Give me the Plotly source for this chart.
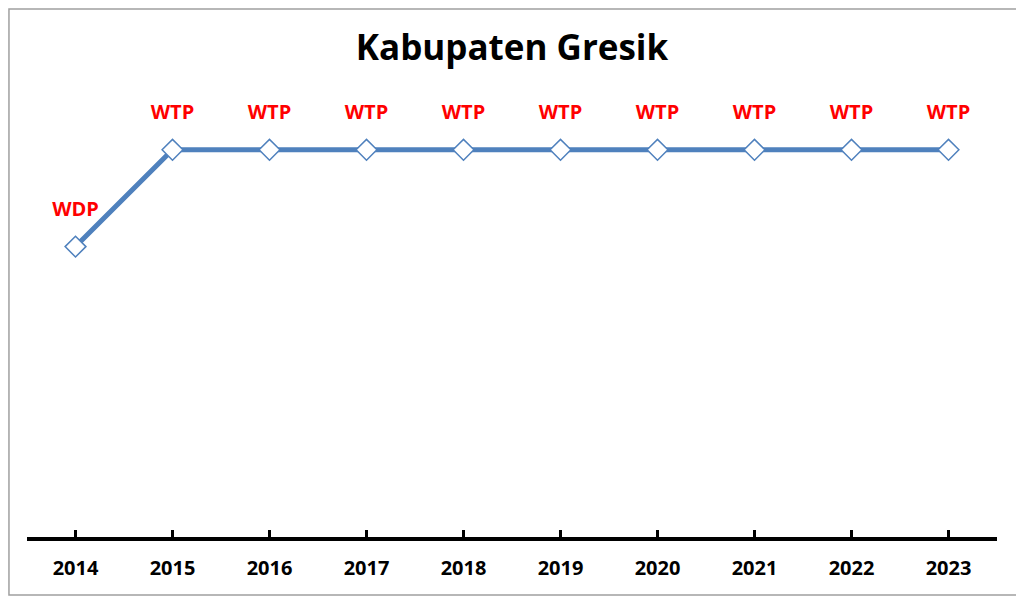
import plotly.graph_objects as go

years = ["2014", "2015", "2016", "2017", "2018", "2019", "2020", "2021", "2022", "2023"]
opini = ["WDP", "WTP", "WTP", "WTP", "WTP", "WTP", "WTP", "WTP", "WTP", "WTP"]
# WDP sits one step below WTP on the chart
skor = [3, 4, 4, 4, 4, 4, 4, 4, 4, 4]
label_gap = 0.37  # labels float a bit above the points

fig = go.Figure()
fig.add_trace(go.Scatter(
    x=years, y=skor, mode="lines+markers",
    line=dict(color="#4F81BD", width=5),
    marker=dict(symbol="diamond", size=16, color="white",
                line=dict(color="#4F81BD", width=1.5)),
    hoverinfo="skip",
))
fig.add_trace(go.Scatter(
    x=years, y=[v + label_gap for v in skor], mode="text", text=opini,
    textposition="middle center",
    textfont=dict(family="Open Sans", size=20, color="#FF0000", weight="bold"),
    hoverinfo="skip", cliponaxis=False,
))

# outer grey frame like the excel chart area
fig.add_shape(type="rect", xref="paper", yref="paper",
              x0=-0.0186, x1=1.0237, y0=-0.1198, y1=1.0909,
              line=dict(color="#A0A0A0", width=1.5))

# page body adds 8px, so the figure is a bit smaller than the window
fig.update_layout(
    width=1016, height=591,
    margin=dict(l=19, r=27, t=45, b=62),
    paper_bgcolor="white", plot_bgcolor="white",
    showlegend=False,
    title=dict(text="<b>Kabupaten Gresik</b>", xref="container", x=504 / 1016,
               xanchor="center", y=1 - 40 / 591, yanchor="middle",
               font=dict(family="Open Sans", size=35, color="black")),
    xaxis=dict(type="category", range=[-0.5, 9.5], showline=True, linecolor="black",
               linewidth=4, ticks="inside", ticklen=7, tickwidth=3, tickcolor="black",
               showgrid=False, zeroline=False, ticklabelstandoff=10,
               tickfont=dict(family="Open Sans", size=20, color="black", weight="bold")),
    yaxis=dict(range=[0, 5], visible=False, showgrid=False, zeroline=False),
)

fig.write_html("out.html")
